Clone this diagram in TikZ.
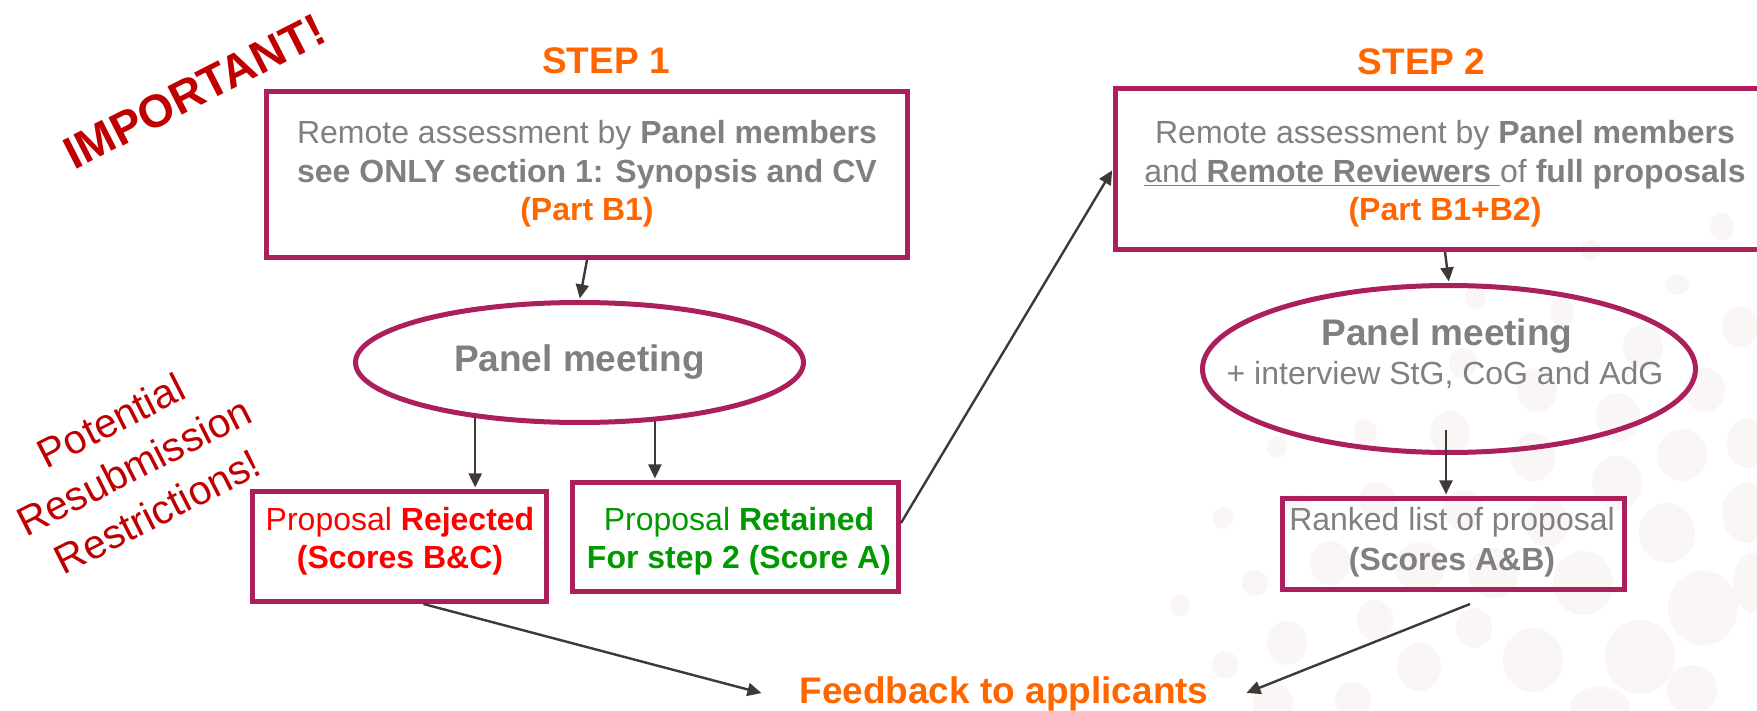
\documentclass[tikz,border=0pt]{standalone}
\usepackage{fontspec}
\setmainfont{Liberation Sans}
\usetikzlibrary{arrows.meta,shapes.geometric}
\definecolor{mag}{HTML}{AA1F5C}
\definecolor{txtgray}{HTML}{808080}
\definecolor{orng}{HTML}{FF6600}
\definecolor{dred}{HTML}{C00000}
\definecolor{brred}{HTML}{FF0000}
\definecolor{grn}{HTML}{009900}
\definecolor{arrc}{HTML}{403835}
\definecolor{dotc}{HTML}{F9F6F5}
\begin{document}
\begin{tikzpicture}[x=0.5pt,y=-0.5pt,
  txt/.style={font=\fontsize{16}{19.2}\selectfont, text=txtgray, align=center, inner sep=0pt},
  boxs/.style={draw=mag, line width=2.5pt, rectangle, inner sep=0pt},
  ells/.style={draw=mag, line width=2.5pt, ellipse, inner sep=0pt},
  arr/.style={draw=arrc, line width=1.2pt, -{Triangle[length=7pt,width=6.5pt]}, shorten >=0.8pt},
  titles/.style={font=\fontsize{18.5}{22}\selectfont\bfseries, text=orng, inner sep=0pt},
  warn/.style={text=dred, rotate=27, align=center, inner sep=0pt}]
\useasboundingbox (0,0) rectangle (1757,711);
\clip (0,0) rectangle (1757,711);
\fill[white] (0,0) rectangle (1757,711);
% faint background dots
\foreach \cx/\cy/\rx/\ry in {
 1677/285/12/10, 1740/327/18/20, 1643/347/20/22, 1705/390/20/22, 1618/417/22/24,
 1682/455/25/26, 1747/443/20/25, 1617/483/25/27, 1747/513/25/30, 1667/533/28/30,
 1703/608/35/37, 1583/583/30/32, 1640/657/35/37, 1533/660/30/32, 1753/583/20/30,
 1600/707/30/20, 1475/298/10/11, 1562/312/12/14, 1463/363/14/15, 1537/390/20/22,
 1365/432/12/13, 1277/447/10/11, 1450/433/20/22, 1533/457/22/24, 1300/507/12/13,
 1377/500/18/18, 1463/510/20/20, 1547/523/22/24, 1330/563/20/22, 1420/567/25/25,
 1493/573/25/25, 1223/518/10/11, 1255/583/13/13, 1180/605/10/11, 1225/665/13/14,
 1287/643/20/22, 1273/703/20/20, 1722/227/12/14, 1591/250/10/10, 1375/620/18/20,
 1419/667/22/24, 1474/628/18/20, 1353/700/18/18, 1692/690/25/25}
 \fill[dotc] (\cx,\cy) ellipse [x radius=\rx, y radius=\ry];
% warnings
\node[warn, font=\fontsize{23}{27}\selectfont\bfseries] (imp) at (194.5,91.5) {IMPORTANT!};
\node[warn, font=\fontsize{20.4}{25.5}\selectfont] (pot) at (134,466) {Potential\\Resubmission\\Restrictions!};
% titles
\node[titles] (s1) at (606,61) {STEP 1};
\node[titles] (s2) at (1421.5,61.5) {STEP 2};
% step 1
\node[boxs, minimum width=320.5pt, minimum height=83pt] (b1) at (587,174.5) {};
\node[txt] (b1t) at (587,174) {Remote assessment by \textbf{Panel members}\\\textbf{see ONLY section 1: Synopsis and CV}\\\textcolor{orng}{\textbf{(Part B1)}}};
\node[ells, minimum width=224pt, minimum height=60pt] (e1) at (579.5,362.5) {};
\node[txt, font=\fontsize{18.5}{22}\selectfont\bfseries] (e1t) at (579.5,362.5) {Panel meeting};
\node[boxs, minimum width=147pt, minimum height=55pt] (rej) at (399.5,546.5) {};
\node[txt, text=brred] (rejt) at (400,541) {Proposal \textbf{Rejected}\\\textbf{(Scores B\&C)}};
\node[boxs, minimum width=163pt, minimum height=54.5pt] (ret) at (735.5,537) {};
\node[txt, text=grn] (rett) at (739,541) {Proposal \textbf{Retained}\\\textbf{For step 2 (Score A)}};
% step 2
\node[boxs, minimum width=329.5pt, minimum height=80.5pt] (b2) at (1445,169) {};
\node[txt] (b2t) at (1445,174) {Remote assessment by \textbf{Panel members}\\\underline{and \textbf{Remote Reviewers}\ }of \textbf{full proposals}\\\textcolor{orng}{\textbf{(Part B1+B2)}}};
\node[ells, minimum width=246.5pt, minimum height=83.5pt] (e2) at (1449,369) {};
\node[txt, font=\fontsize{18.5}{22}\selectfont\bfseries, anchor=base] (e2ta) at (1447,346) {Panel meeting};
\node[txt, anchor=base] (e2tb) at (1445,385) {+ interview StG, CoG and AdG};
\node[boxs, minimum width=171pt, minimum height=45.5pt] (rank) at (1453.5,544) {};
\node[txt, font=\fontsize{16}{20}\selectfont] (rankt) at (1452,542) {Ranked list of proposal\\\textbf{(Scores A\&B)}};
% feedback
\node[titles, inner xsep=18pt] (fb) at (1004,693.5) {Feedback to applicants};
% connectors
\coordinate (e2in) at (1446,430);
\coordinate (rankout) at (1470,604);
\draw[arr] (b1.south) -- (e1.north);
\draw[arr] (e1.208) -- (e1.208 |- rej.north);
\draw[arr] (e1.322) -- (e1.322 |- ret.north);
\draw[arr] ([yshift=7pt]ret.east) -- (b2.west);
\draw[arr] (b2.south) -- (e2.north);
\draw[arr] (e2in) -- (e2in |- rank.north);
\draw[arr] ([xshift=12pt]rej.south) -- (fb.west);
\draw[arr] (rankout) -- (fb.east);
\end{tikzpicture}
\end{document}
